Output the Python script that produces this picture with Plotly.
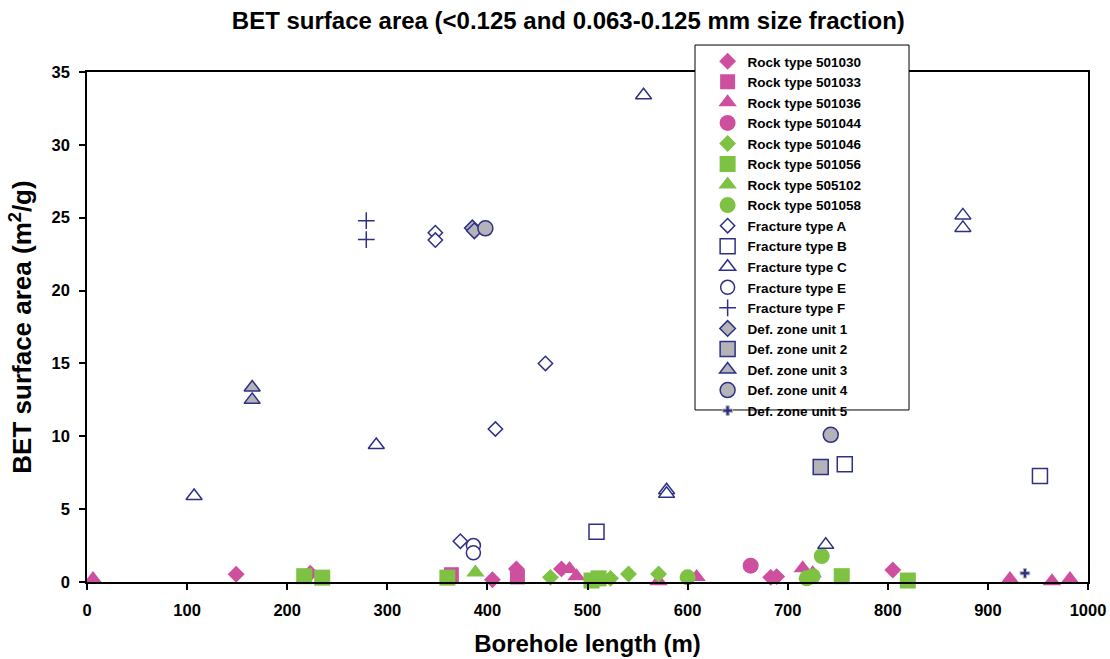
import plotly.graph_objects as go

# ---------------- data ----------------
r501030_x = [149, 223, 405, 429, 474, 683, 689, 805]
r501030_y = [0.53, 0.6, 0.15, 0.9, 0.9, 0.32, 0.37, 0.82]
r501033_x = [364, 430]
r501033_y = [0.5, 0.35]
r501036_x = [6, 482, 489, 571, 609, 715, 725, 922, 964, 982]
r501036_y = [0.2, 0.9, 0.4, 0.05, 0.35, 0.95, 0.6, 0.2, 0.05, 0.2]
r501044_x = [663]
r501044_y = [1.12]
r501046_x = [463, 523, 541, 571]
r501046_y = [0.32, 0.25, 0.55, 0.55]
r501056_x = [217, 235, 360, 504, 511, 754, 820]
r501056_y = [0.4, 0.3, 0.3, 0.1, 0.25, 0.4, 0.1]
r505102_x = [388]
r505102_y = [0.65]
r501058_x = [600, 719, 725, 734]
r501058_y = [0.32, 0.25, 0.4, 1.78]
fA_x = [348, 348, 373, 408, 458]
fA_y = [23.97, 23.47, 2.8, 10.5, 15.0]
fB_x = [509, 757, 952]
fB_y = [3.45, 8.08, 7.27]
fC_x = [107, 289, 556, 579, 579, 738, 875, 875]
fC_y = [5.9, 9.4, 33.4, 6.3, 6.05, 2.55, 25.16, 24.3]
fE_x = [386, 386]
fE_y = [2.5, 2.0]
fF_x = [279, 279]
fF_y = [24.8, 23.5]
d1_x = [385, 387]
d1_y = [24.3, 24.1]
d2_x = [733]
d2_y = [7.9]
d3_x = [165, 165]
d3_y = [13.35, 12.5]
d4_x = [398, 743]
d4_y = [24.27, 10.1]
d5_x = [937]
d5_y = [0.6]

x_ticks = [0, 100, 200, 300, 400, 500, 600, 700, 800, 900, 1000]
y_ticks = [0, 5, 10, 15, 20, 25, 30, 35]

PINK = "#CF4F9F"
GREEN = "#7DC242"
NAVY = "#2E3087"
GREY = "#B4B4B8"

fig = go.Figure()


def add(name, xs, ys, symbol, size, color, line_color=None, line_width=0):
    fig.add_trace(go.Scatter(
        x=xs, y=ys, mode="markers", name=name,
        marker=dict(symbol=symbol, size=size, color=color,
                    line=dict(color=line_color or color, width=line_width)),
    ))


add("Rock type 501030", r501030_x, r501030_y, "diamond", 13, PINK)
add("Rock type 501033", r501033_x, r501033_y, "square", 15, PINK)
add("Rock type 501036", r501036_x, r501036_y, "triangle-up", 16, PINK)
add("Rock type 501044", r501044_x, r501044_y, "circle", 16, PINK)
add("Rock type 501046", r501046_x, r501046_y, "diamond", 13, GREEN)
add("Rock type 501056", r501056_x, r501056_y, "square", 16, GREEN)
add("Rock type 505102", r505102_x, r505102_y, "triangle-up", 16, GREEN)
add("Rock type 501058", r501058_x, r501058_y, "circle", 16, GREEN)
add("Fracture type A", fA_x, fA_y, "diamond", 11, "white", NAVY, 1.5)
add("Fracture type B", fB_x, fB_y, "square", 15, "white", NAVY, 1.5)
add("Fracture type C", fC_x, fC_y, "triangle-up", 14, "white", NAVY, 1.5)
add("Fracture type E", fE_x, fE_y, "circle", 14, "white", NAVY, 1.5)
add("Fracture type F", fF_x, fF_y, "cross-thin", 12, NAVY, NAVY, 1.5)
add("Def. zone unit 1", d1_x, d1_y, "diamond", 12, GREY, NAVY, 1.5)
add("Def. zone unit 2", d2_x, d2_y, "square", 15, GREY, NAVY, 1.5)
add("Def. zone unit 3", d3_x, d3_y, "triangle-up", 14, GREY, NAVY, 1.5)
add("Def. zone unit 4", d4_x, d4_y, "circle", 15, GREY, NAVY, 1.5)
add("Def. zone unit 5", d5_x, d5_y, "cross", 8, NAVY, GREY, 1)

FONT = "Liberation Sans, Arial, sans-serif"

# legend box (paper coordinates relative to plot area)
fig.add_shape(type="rect", xref="paper", yref="paper",
              x0=0.6074, x1=0.8212, y0=0.3373, y1=1.0529,
              line=dict(color="black", width=1), fillcolor="white", layer="above")

fig.update_layout(
    width=1110, height=659,
    margin=dict(l=87, r=22, t=72, b=77, autoexpand=False),
    paper_bgcolor="white", plot_bgcolor="white",
    font=dict(family=FONT, color="black"),
    title=dict(text="<b>BET surface area (<0.125 and 0.063-0.125 mm size fraction)</b>",
               x=0.512, xanchor="center", y=0.968, yanchor="middle",
               font=dict(size=24, family=FONT, color="black")),
    showlegend=True,
    legend=dict(x=0.62, xanchor="left", y=1.051, yanchor="top",
                bgcolor="rgba(0,0,0,0)", borderwidth=0, maxheight=600,
                font=dict(size=13.5, family=FONT, color="black"),
                itemsizing="trace", tracegroupgap=0),
    xaxis=dict(range=[0, 1000], tickvals=x_ticks, ticktext=[f"<b>{v}</b>" for v in x_ticks],
               showgrid=False, zeroline=False, showline=True, linecolor="black", linewidth=1.5,
               mirror=True, ticks="outside", ticklen=6, tickcolor="black", tickwidth=1.5,
               ticklabelstandoff=6, automargin=False,
               tickfont=dict(size=16.5, family=FONT, color="black"),
               title=dict(text="<b>Borehole length (m)</b>", font=dict(size=24, family=FONT, color="black"),
                          standoff=18)),
    yaxis=dict(range=[0, 35], tickvals=y_ticks, ticktext=[f"<b>{v}</b>" for v in y_ticks],
               showgrid=False, zeroline=False, showline=True, linecolor="black", linewidth=1.5,
               mirror=True, ticks="outside", ticklen=6, tickcolor="black", tickwidth=1.5,
               ticklabelstandoff=6, automargin=False,
               tickfont=dict(size=16.5, family=FONT, color="black"),
               title=dict(text="<b>BET surface area (m<sup>2</sup>/g)</b>",
                          font=dict(size=26, family=FONT, color="black"), standoff=12)),
)
for t in fig.data:
    t.name = f"<b>{t.name}</b>"
    t.cliponaxis = False

fig.write_html("out.html")
